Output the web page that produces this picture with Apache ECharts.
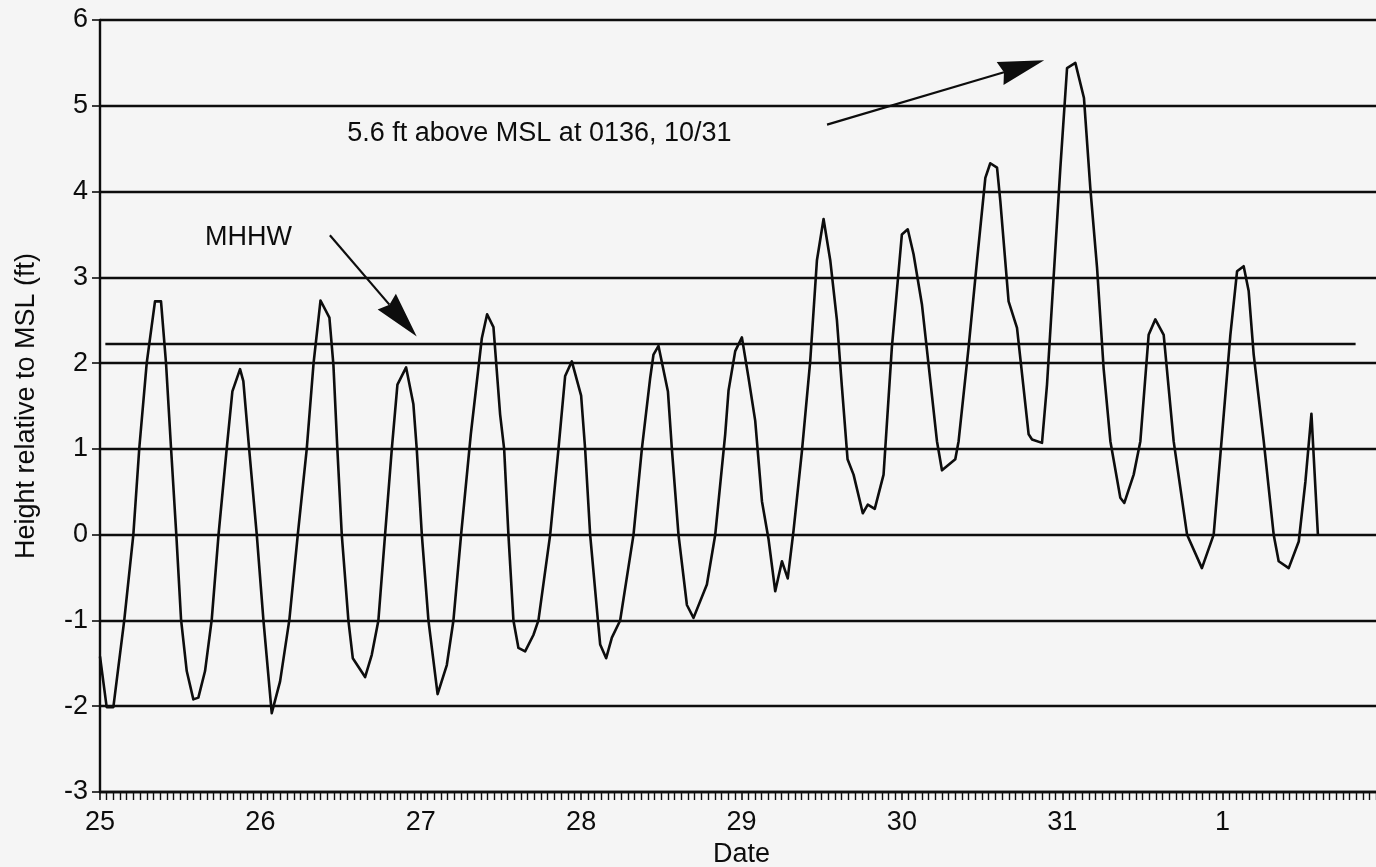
<!DOCTYPE html>
<html>
<head>
<meta charset="utf-8">
<script src="https://cdn.jsdelivr.net/npm/echarts@6/dist/echarts.min.js"></script>
<style>
html,body{margin:0;padding:0;background:#f5f5f5;overflow:hidden;}
#chart{width:1376px;height:867px;}
</style>
</head>
<body>
<div id="chart"></div>
<script>
// Day tick labels (Oct 25 ... Nov 1), one per 24 h
const dayLabels = ['25', '26', '27', '28', '29', '30', '31', '1'];

// Time in hours since 25 Oct 00:00
const hours = [
  0, 1.0, 2.0, 3.64, 4.99, 5.88, 6.99, 8.23, 9.13, 9.88, 10.63, 11.42, 12.13, 12.98, 13.97, 14.72,
  15.72, 16.72, 17.74, 18.97, 19.81, 20.96, 21.45, 22.31, 23.46, 24.45, 25.7, 26.95, 28.34, 29.6,
  30.94, 31.96, 33.0, 34.33, 34.93, 35.52, 36.18, 37.17, 37.83, 39.67, 40.67, 41.66, 42.66, 43.67,
  44.51, 45.81, 46.9, 47.4, 48.16, 49.15, 50.52, 51.9, 52.89, 54.04, 55.49, 57.14, 57.93, 58.88,
  59.88, 60.48, 61.12, 61.87, 62.62, 63.62, 64.86, 65.61, 67.37, 68.61, 69.61, 70.61, 72.0, 72.6,
  73.35, 74.51, 74.85, 75.75, 76.6, 77.84, 79.84, 81.09, 82.34, 82.83, 83.58, 84.99, 85.58, 86.57,
  87.83, 88.82, 90.82, 92.07, 93.56, 94.06, 95.06, 96.06, 97.05, 98.05, 99.06, 100.04, 101.05,
  102.05, 102.92, 103.79, 105.04, 106.29, 107.29, 108.28, 109.28, 110.28, 111.03, 111.87, 112.77,
  114.15, 114.9, 115.94, 117.26, 118.5, 120.0, 120.88, 121.75, 123.01, 124.0, 125.25, 126.0,
  127.99, 128.49, 129.98, 131.24, 132.49, 133.23, 134.24, 134.73, 135.97, 137.23, 138.97, 139.48,
  140.97, 141.72, 143.71, 144.72, 145.96, 147.25, 148.2, 149.21, 150.19, 151.2, 152.69, 153.29,
  154.69, 155.69, 156.93, 157.93, 159.18, 160.67, 162.68, 164.9, 166.66, 167.92, 169.16, 170.16,
  171.15, 171.9, 172.65, 174.15, 175.64, 176.39, 177.89, 179.39, 180.39, 181.29, 182.26
];

// Height relative to MSL (ft)
const heights = [
  -1.42, -2.01, -2.01, -0.99, 0, 1.01, 2.0, 2.72, 2.72, 2.0, 1.01, 0, -0.99, -1.59, -1.92, -1.9,
  -1.59, -0.99, 0, 1.01, 1.67, 1.93, 1.79, 1.01, 0, -0.99, -2.08, -1.71, -0.99, 0,
  1.0, 2.0, 2.73, 2.53, 1.98, 1.0, 0, -1.0, -1.44, -1.66, -1.4, -1.0, 0, 1.0,
  1.75, 1.95, 1.52, 1.0, 0, -1.0, -1.86, -1.52, -1.0, 0, 1.17, 2.29, 2.57, 2.42,
  1.4, 1.0, 0, -1.0, -1.32, -1.36, -1.17, -1.0, 0, 1.0, 1.85, 2.02, 1.62, 1.0,
  0, -1.0, -1.28, -1.44, -1.2, -1.0, 0, 1.0, 1.83, 2.1, 2.2, 1.67, 1.0, 0,
  -0.82, -0.97, -0.58, 0, 1.17, 1.68, 2.14, 2.3, 1.83, 1.33, 0.39, -0.05, -0.66,
  -0.31, -0.51, 0.05, 0.97, 2.03, 3.2, 3.68, 3.2, 2.5, 1.72, 0.88, 0.7,
  0.25, 0.35, 0.3, 0.7, 2.18, 3.5, 3.56, 3.27, 2.68, 1.98, 1.09, 0.75,
  0.88, 1.09, 2.18, 3.19, 4.16, 4.33, 4.28, 3.89, 2.72, 2.41, 1.17, 1.11,
  1.07, 1.75, 4.27, 5.44, 5.5, 5.09, 4.04, 3.11, 1.94, 1.09, 0.43, 0.37,
  0.7, 1.09, 2.33, 2.51, 2.33, 1.09, 0, -0.39, 0, 1.17, 2.33, 3.07,
  3.13, 2.84, 2.1, 1.09, 0, -0.31, -0.39, -0.08, 0.62, 1.41, 0
];

// Mean higher high water level (ft) and the span it is drawn over (hours)
const mhhwLevel = 2.22;
const mhhwSpan = [0.8, 187.9];

// Annotation texts and arrows, in data units [hours, ft]
const noteTexts = [
  { text: '5.6 ft above MSL at 0136, 10/31', at: [37.0, 4.68] },
  { text: 'MHHW', at: [15.7, 3.46] }
];
const noteArrows = [
  { from: [108.8, 4.78], to: [141.3, 5.53] },
  { from: [34.4, 3.49], to: [47.4, 2.31] }
];

const FONT = '"Liberation Sans", Arial, Helvetica, sans-serif';
const INK = '#0d0d0d';

const chart = echarts.init(document.getElementById('chart'), null, { renderer: 'canvas' });

const option = {
  backgroundColor: '#f5f5f5',
  animation: false,
  grid: { left: 100, top: 20, width: 1283, height: 772, containLabel: false, outerBoundsMode: 'none' },
  xAxis: {
    type: 'value', min: 0, max: 192, interval: 24,
    name: 'Date', nameLocation: 'middle', nameGap: 48,
    nameTextStyle: { fontSize: 27, fontFamily: FONT, color: INK },
    axisLine: { show: true, onZero: false, lineStyle: { color: INK, width: 2.4 } },
    axisTick: { show: true, inside: false, length: 8, lineStyle: { color: INK, width: 1.6 } },
    minorTick: { show: true, splitNumber: 24, length: 8, lineStyle: { color: INK, width: 1.4 } },
    axisLabel: {
      fontSize: 27, fontFamily: FONT, color: INK, margin: 17,
      formatter: function (v) { const i = Math.round(v / 24); return (Math.abs(v - i * 24) < 1e-6 && dayLabels[i] !== undefined) ? dayLabels[i] : ''; }
    },
    splitLine: { show: false },
    minorSplitLine: { show: false }
  },
  yAxis: {
    type: 'value', min: -3, max: 6, interval: 1,
    name: 'Height relative to MSL (ft)', nameLocation: 'middle', nameGap: 60, nameRotate: 90,
    nameTextStyle: { fontSize: 27, fontFamily: FONT, color: INK },
    axisLine: { show: true, lineStyle: { color: INK, width: 2.4 } },
    axisTick: { show: true, inside: false, length: 8, lineStyle: { color: INK, width: 1.6 } },
    axisLabel: { fontSize: 27, fontFamily: FONT, color: INK, margin: 12 },
    splitLine: { show: true, lineStyle: { color: INK, width: 2.4 } }
  },
  series: [
    {
      type: 'line',
      data: hours.map((h, i) => [h, heights[i]]),
      showSymbol: false,
      symbol: 'none',
      lineStyle: { color: INK, width: 2.6, join: 'round' },
      clip: false,
      markLine: {
        silent: true,
        symbol: 'none',
        label: { show: false },
        lineStyle: { color: INK, width: 2.4, type: 'solid' },
        data: [[{ coord: [mhhwSpan[0], mhhwLevel] }, { coord: [mhhwSpan[1], mhhwLevel] }]]
      }
    }
  ]
};

chart.setOption(option);

// Build annotations through the chart's own scales
function px(p) { return chart.convertToPixel({ gridIndex: 0 }, p); }
const graphics = [];
noteTexts.forEach(n => {
  const p = px(n.at);
  graphics.push({
    type: 'text', x: p[0], y: p[1], silent: true,
    style: { text: n.text, fill: INK, font: '27px ' + FONT, textAlign: 'left', textVerticalAlign: 'middle' }
  });
});
noteArrows.forEach(a => {
  const s = px(a.from), t = px(a.to);
  const dx = t[0] - s[0], dy = t[1] - s[1];
  const len = Math.sqrt(dx * dx + dy * dy);
  const ux = dx / len, uy = dy / len;
  const headL = 46, headW = 12;
  const bx = t[0] - ux * headL, by = t[1] - uy * headL;
  graphics.push({
    type: 'line', silent: true,
    shape: { x1: s[0], y1: s[1], x2: bx + ux * 4, y2: by + uy * 4 },
    style: { stroke: INK, lineWidth: 2.2 }
  });
  graphics.push({
    type: 'polygon', silent: true,
    shape: { points: [[t[0], t[1]], [bx - uy * headW, by + ux * headW], [bx + ux * 4, by + uy * 4], [bx + uy * headW, by - ux * headW]] },
    style: { fill: INK }
  });
});
chart.setOption({ graphic: graphics });
</script>
</body>
</html>
